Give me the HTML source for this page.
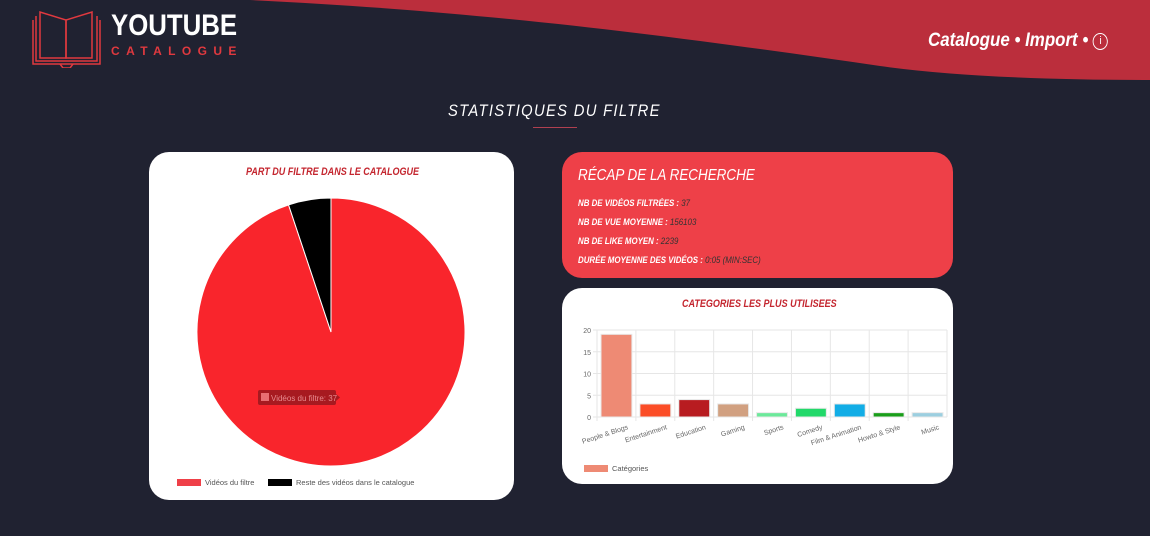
<!DOCTYPE html>
<html><head><meta charset="utf-8"><style>
body{margin:0;width:1150px;height:536px;background:#202231;overflow:hidden;position:relative;font-family:"Liberation Sans",sans-serif}
.card{position:absolute;background:#fff;border-radius:20px}
.t{position:absolute;font-family:"Liberation Sans",sans-serif;font-style:italic;font-weight:bold;white-space:nowrap;transform-origin:0 0}
</style></head><body>
<svg style="position:absolute;left:0;top:0" width="1150" height="100"><path d="M250,0 C500,12 700,40 880,66 Q980,80 1150,80 L1150,0 Z" fill="#bb2e3c"/></svg>
<svg style="position:absolute;left:30px;top:8px" width="76" height="60" fill="none" stroke="#e0393f" stroke-width="1.5">
<path d="M3,12 V56 H70 V12"/><path d="M6,8 V53 H67 V8"/><path d="M10,4 V50 L36,50 V12 L10,4Z"/><path d="M62,4 V50 L36,50 V12 L62,4Z"/><path d="M30,56 L33,60 H40 L43,56"/></svg>
<div style="position:absolute;left:111px;top:9px;color:#fff;font-weight:bold;font-size:30px;transform:scaleX(0.86);transform-origin:0 0">YOUTUBE</div>
<div style="position:absolute;left:111px;top:44px;color:#e0393f;font-weight:bold;font-size:12px;letter-spacing:6.4px">CATALOGUE</div>
<div class="t" style="left:928px;top:30px;color:#fff;font-size:19px;transform:scaleX(0.89)"><span>Catalogue</span> • <span>Import</span> • <span style="display:inline-block;width:15px;height:15px;border:1.5px solid #fff;border-radius:50%;font-size:11px;text-align:center;line-height:15px;font-style:normal;font-weight:normal;vertical-align:2px">i</span></div>
<div class="t" style="left:448px;top:101px;color:#fff;font-size:17px;font-weight:normal;letter-spacing:1.5px;transform:scaleX(0.87)">STATISTIQUES DU FILTRE</div>
<div style="position:absolute;left:533px;top:127px;width:44px;height:1px;background:#b04050"></div>

<div class="card" style="left:149px;top:152px;width:365px;height:348px">
<div class="t" style="left:97px;top:14px;color:#c4262f;font-size:11px;transform:scaleX(0.82)">PART DU FILTRE DANS LE CATALOGUE</div>
<svg id="pie" width="365" height="348" style="position:absolute;left:0;top:0"></svg>
</div>

<div class="card" style="left:562px;top:152px;width:391px;height:126px;background:#ee4048">
<div class="t" style="left:16px;top:15px;color:#fff;font-size:16px;font-weight:normal;transform:scaleX(0.84)">RÉCAP DE LA RECHERCHE</div>
<div class="t" style="left:16px;top:42px;color:#fff;font-size:9.5px;line-height:19px;transform:scaleX(0.83)">
<div>NB DE VIDÉOS FILTRÉES : <span style="color:#333;font-weight:normal">37</span></div>
<div>NB DE VUE MOYENNE : <span style="color:#333;font-weight:normal">156103</span></div>
<div>NB DE LIKE MOYEN : <span style="color:#333;font-weight:normal">2239</span></div>
<div>DURÉE MOYENNE DES VIDÉOS : <span style="color:#333;font-weight:normal">0:05 (MIN:SEC)</span></div></div>
</div>

<div class="card" style="left:562px;top:288px;width:391px;height:196px">
<div class="t" style="left:120px;top:10px;color:#c4262f;font-size:11px;transform:scaleX(0.82)">CATEGORIES LES PLUS UTILISEES</div>
<svg id="bar" width="391" height="196" style="position:absolute;left:0;top:0"></svg>
</div>
<script>
const pieLabels=["Vidéos du filtre","Reste des vidéos dans le catalogue"];
const pieValues=[37,2];
const pieColors=["#f9252c","#000000"];
const barCats=["People & Blogs","Entertainment","Education","Gaming","Sports","Comedy","Film & Animation","Howto & Style","Music"];
const barValues=[19,3,4,3,1,2,3,1,1];
const barColors=["#ee8a74","#fb4d27","#b81c20","#d1a080","#6ce99a","#22d96a","#12ade6","#1a9e1a","#9ccfe0"];
const yTicks=[0,5,10,15,20];
const NS="http://www.w3.org/2000/svg";
function mk(p,t,a){const e=document.createElementNS(NS,t);for(const k in a)e.setAttribute(k,a[k]);p.appendChild(e);return e;}
const pie=document.getElementById('pie');
const cx=182,cy=180,r=134;const tot=pieValues.reduce((a,b)=>a+b,0);
let a0=-Math.PI/2;
pieValues.forEach((v,i)=>{const a1=a0+v/tot*2*Math.PI;const big=(a1-a0)>Math.PI?1:0;
const d=`M${cx},${cy} L${cx+r*Math.cos(a0)},${cy+r*Math.sin(a0)} A${r},${r} 0 ${big} 1 ${cx+r*Math.cos(a1)},${cy+r*Math.sin(a1)} Z`;
const s=mk(pie,'path',{d:d,fill:pieColors[i],stroke:'#fff','stroke-width':1});


a0=a1;});
const tg=mk(pie,'g',{});


mk(tg,'rect',{x:109,y:238,width:78,height:15,rx:2,fill:'#a71a20'});
mk(tg,'path',{d:'M187,242 L191,245.5 L187,249Z',fill:'#a71a20'});
mk(tg,'rect',{x:112,y:241,width:8,height:8,fill:'#e86e72'});
const tt=mk(tg,'text',{x:122,y:249,'font-size':8,fill:'#e88a8e','font-family':'Liberation Sans'});tt.textContent=pieLabels[0]+': '+pieValues[0];
let lx=28;
pieLabels.forEach((l,i)=>{const g=mk(pie,'g',{});


mk(g,'rect',{x:lx,y:327,width:24,height:7,fill:i==0?'#ef4048':'#000'});
const t=mk(g,'text',{x:lx+28,y:333,'font-size':7.5,fill:'#555','font-family':'Liberation Sans'});t.textContent=l;lx+=91;});
const bar=document.getElementById('bar');
const X0=35,X1=385,Y0=129,Y1=42;const ymax=20;
const ys=v=>Y0-(v/ymax)*(Y0-Y1);const bw=(X1-X0)/barCats.length;
yTicks.forEach(t=>{mk(bar,'line',{x1:X0-4,x2:X1,y1:ys(t),y2:ys(t),stroke:'#e6e6e6','stroke-width':1});
const tx=mk(bar,'text',{x:X0-6,y:ys(t)+3,'font-size':7,fill:'#666','text-anchor':'end','font-family':'Liberation Sans'});tx.textContent=t;});
barCats.forEach((c,i)=>{mk(bar,'line',{x1:X0+i*bw,x2:X0+i*bw,y1:Y1,y2:Y0+4,stroke:'#e6e6e6'});
const b=mk(bar,'rect',{x:X0+i*bw+4,y:ys(barValues[i]),width:bw-8,height:Y0-ys(barValues[i]),fill:barColors[i],stroke:'#e8e8e8','stroke-width':1});


const cxm=X0+i*bw+bw/2;
const l=mk(bar,'text',{x:cxm+12,y:Y0+12,'font-size':7,fill:'#666','text-anchor':'end','font-family':'Liberation Sans',transform:`rotate(-18 ${cxm+12} ${Y0+12})`});l.textContent=c;});
mk(bar,'line',{x1:X1,x2:X1,y1:Y1,y2:Y0,stroke:'#e6e6e6'});
const lg=mk(bar,'g',{});


mk(lg,'rect',{x:22,y:177,width:24,height:7,fill:barColors[0]});
const lt=mk(lg,'text',{x:50,y:183,'font-size':7.5,fill:'#555','font-family':'Liberation Sans'});lt.textContent='Catégories';
</script>
</body></html>
